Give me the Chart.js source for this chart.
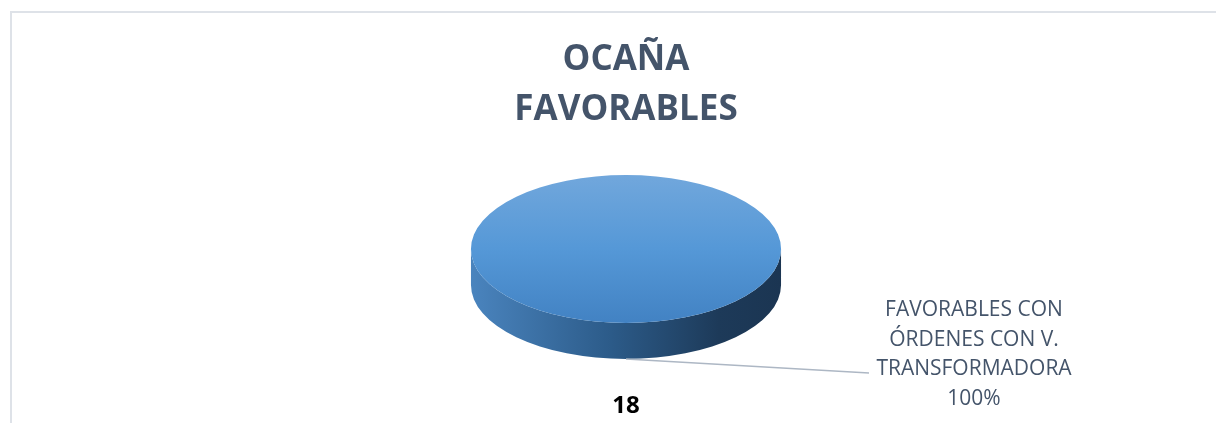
<!DOCTYPE html>
<html>
<head>
    <meta charset="UTF-8">
    <title>OCAÑA FAVORABLES</title>
    <script src="https://cdn.jsdelivr.net/npm/chart.js@4/dist/chart.umd.min.js"></script>
    <style>
        html, body { margin: 0; padding: 0; background: #fff; }
        #wrap { position: relative; width: 1216px; height: 423px; overflow: hidden; }
        #frame {
            position: absolute; left: 10px; top: 11px; width: 1230px; height: 440px;
            border-left: 2px solid #DEE2E8; border-top: 2px solid #DEE2E8;
        }
        #pie { position: absolute; left: 0; top: 0; }
    </style>
    <script>
        // chart data
        const titleLines = ['OCAÑA', 'FAVORABLES'];
        const categories = ['FAVORABLES CON ÓRDENES CON V. TRANSFORMADORA'];
        const labelLines = [['FAVORABLES CON', 'ÓRDENES CON V.', 'TRANSFORMADORA']];
        const values = [18];
    </script>
</head>
<body>
    <div id="wrap">
        <div id="frame"></div>
        <canvas id="pie" width="1216" height="423"></canvas>
    </div>
    <script>
        const STRETCH = 2.095;   // disc is drawn as a circle, then widened into an ellipse
        const DEPTH = 36;        // thickness of the 3d wall
        const FONT = "'Open Sans', 'DejaVu Sans', sans-serif";

        function topFace(c) {
            const a = c.chart.chartArea;
            if (!a) return '#5B9BD5';
            const g = c.chart.ctx.createLinearGradient(0, a.top, 0, a.bottom);
            g.addColorStop(0, '#71A7DC');
            g.addColorStop(0.5, '#5598D7');
            g.addColorStop(1, '#4282C3');
            return g;
        }

        const pie3d = {
            id: 'pie3d',
            beforeDatasetsDraw(chart) {
                const ctx = chart.ctx;
                const arc = chart.getDatasetMeta(0).data[0];
                const p = arc.getProps(['x', 'y', 'outerRadius'], true);
                const rx = p.outerRadius * STRETCH, ry = p.outerRadius;

                const g = ctx.createLinearGradient(p.x - rx, 0, p.x + rx, 0);
                g.addColorStop(0, '#4A84BE');
                g.addColorStop(0.45, '#2C5B89');
                g.addColorStop(0.8, '#1D3A59');
                g.addColorStop(1, '#1B3552');
                ctx.save();
                ctx.beginPath();
                ctx.ellipse(p.x, p.y, rx, ry, 0, 0, Math.PI);
                ctx.ellipse(p.x, p.y + DEPTH, rx, ry, 0, Math.PI, 0, true);
                ctx.closePath();
                ctx.fillStyle = g;
                ctx.fill();
                ctx.restore();

                ctx.save();
                ctx.translate(p.x, p.y);
                ctx.scale(STRETCH, 1);
                ctx.translate(-p.x, -p.y);
            },
            afterDatasetsDraw(chart) {
                const ctx = chart.ctx;
                ctx.restore();

                const meta = chart.getDatasetMeta(0);
                const total = values.reduce((s, v) => s + v, 0);
                meta.data.forEach((arc, i) => {
                    const p = arc.getProps(['x', 'y', 'outerRadius', 'startAngle', 'endAngle'], true);
                    const mid = (p.startAngle + p.endAngle) / 2;
                    const sx = p.x + Math.cos(mid) * p.outerRadius * STRETCH;
                    const sy = p.y + Math.sin(mid) * p.outerRadius + DEPTH;

                    // leader line
                    ctx.save();
                    ctx.strokeStyle = '#ADB7C4';
                    ctx.lineWidth = 1.5;
                    ctx.beginPath();
                    ctx.moveTo(sx, sy);
                    ctx.lineTo(sx + 243, sy + 14);
                    ctx.stroke();

                    // category + percent
                    const lines = labelLines[i].concat([Math.round(values[i] / total * 100) + '%']);
                    ctx.fillStyle = '#44546A';
                    ctx.font = '21px ' + FONT;
                    ctx.textAlign = 'center';
                    ctx.textBaseline = 'middle';
                    lines.forEach((t, k) => ctx.fillText(t, sx + 348, sy - 49 + k * 29.7));

                    // value under the disc
                    ctx.fillStyle = '#000';
                    ctx.font = 'bold 24px ' + FONT;
                    ctx.fillText(String(values[i]), sx, sy + 47);
                    ctx.restore();
                });
            }
        };

        new Chart(document.getElementById('pie'), {
            type: 'pie',
            data: {
                labels: categories,
                datasets: [{
                    data: values,
                    backgroundColor: topFace,
                    borderWidth: 0,
                    hoverBorderWidth: 0,
                    offset: 0,
                    hoverOffset: 0,
                    clip: false
                }]
            },
            options: {
                responsive: false,
                animation: false,
                devicePixelRatio: 1,
                events: [],
                layout: { padding: { left: 40, right: 4, top: 0, bottom: 100 } },
                plugins: {
                    legend: { display: false },
                    tooltip: { enabled: false },
                    title: {
                        display: true,
                        text: titleLines,
                        color: '#44546A',
                        font: { family: FONT, size: 35, weight: 'bold', lineHeight: 50 / 35 },
                        padding: { top: 35, bottom: 40 }
                    }
                }
            },
            plugins: [pie3d]
        });
    </script>
</body>
</html>
